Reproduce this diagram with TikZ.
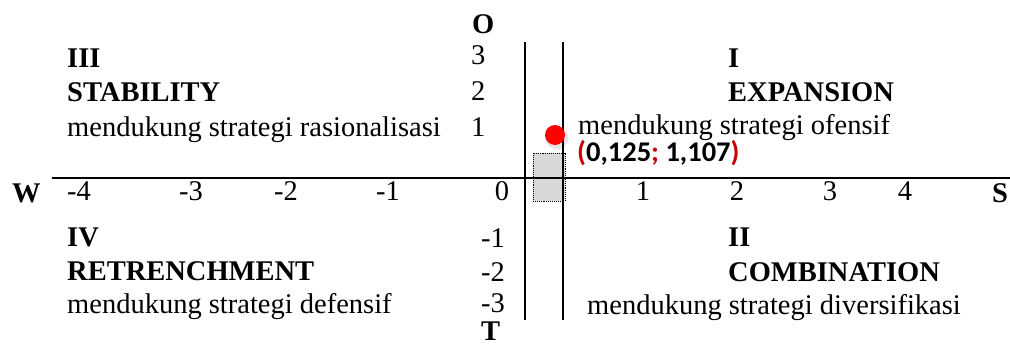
\documentclass[tikz,border=0pt]{standalone}
\usepackage{fontspec}
\setmainfont{Liberation Serif}
\newfontfamily\calibri{Carlito}
\usetikzlibrary{positioning}
\definecolor{darkred}{RGB}{200,0,0}
\definecolor{boxgray}{RGB}{217,217,217}

\begin{document}
\begin{tikzpicture}[
    x=1pt, y=-1pt,
    txt/.style={anchor=base west, inner sep=0pt, font=\fontsize{28.5}{34}\selectfont},
    hd/.style={txt, font=\fontsize{28.5}{34}\selectfont\bfseries},
    tick/.style={txt, anchor=base},
    axis/.style={line width=1.5pt}
]
    \useasboundingbox (0,0) rectangle (1010,345);

    % Position zone
    \node[draw, densely dotted, line width=0.9pt, fill=boxgray, minimum width=32pt, minimum height=48pt, inner sep=0pt] (zone) at (549,177) {};

    % Axes
    \coordinate (wend) at (52,178);
    \coordinate (send) at (1010,178);
    \coordinate (ltop) at (525,42);
    \coordinate (lbot) at (525,320);
    \coordinate (rtop) at (563,42);
    \coordinate (rbot) at (563,320);
    \draw[axis] (wend) -- (send);
    \draw[axis] (ltop) -- (lbot);
    \draw[axis] (rtop) -- (rbot);

    % Horizontal scale
    \node[hd] (W) at (12,202) {W};
    \node[hd, anchor=base] (S) at (1000,202) {S};
    \foreach \v/\x in {-4/79, -3/191, -2/286, -1/388, 0/502, 1/643, 2/737, 3/830, 4/905}
        \node[tick] (h\v) at (\x,200) {\v};

    % Vertical scale
    \node[hd] (O) at (472,34) {O};
    \node[hd] (T) at (481,340) {T};
    \foreach \v/\y in {3/65, 2/100, 1/136}
        \node[txt] (v\v) at (471,\y) {\v};
    \foreach \v/\y in {-1/247, -2/281, -3/312}
        \node[txt] (v\v) at (481,\y) {\v};

    % Quadrant III
    \node[hd] (q3) at (67,68) {III};
    \node[hd] (stab) at (67,102) {STABILITY};
    \node[txt] (rasio) at (67,136) {mendukung strategi rasionalisasi};

    % Quadrant I
    \node[hd] (q1) at (728,68) {I};
    \node[hd] (expa) at (728,102) {EXPANSION};
    \node[txt] (ofen) at (578,135) {mendukung strategi ofensif};

    % Quadrant IV
    \node[hd] (q4) at (67,246) {IV};
    \node[hd] (retr) at (67,280) {RETRENCHMENT};
    \node[txt] (defe) at (67,313) {mendukung strategi defensif};

    % Quadrant II
    \node[hd] (q2) at (728,246) {II};
    \node[hd] (comb) at (728,281) {COMBINATION};
    \node[txt] (dive) at (587,314) {mendukung strategi diversifikasi};

    % Result point
    \fill[black, opacity=0.10] (557,138) circle[radius=11.5];
    \node[circle, fill=red, minimum size=20pt, inner sep=0pt] (pt) at (555,135) {};
    \node[anchor=base west, inner sep=0pt, font=\calibri\fontsize{28.5}{32}\selectfont\bfseries] (coord) at (577,161)
        {{\color{darkred}(}0,125{\color{darkred};} 1,107{\color{darkred})}};
\end{tikzpicture}
\end{document}
